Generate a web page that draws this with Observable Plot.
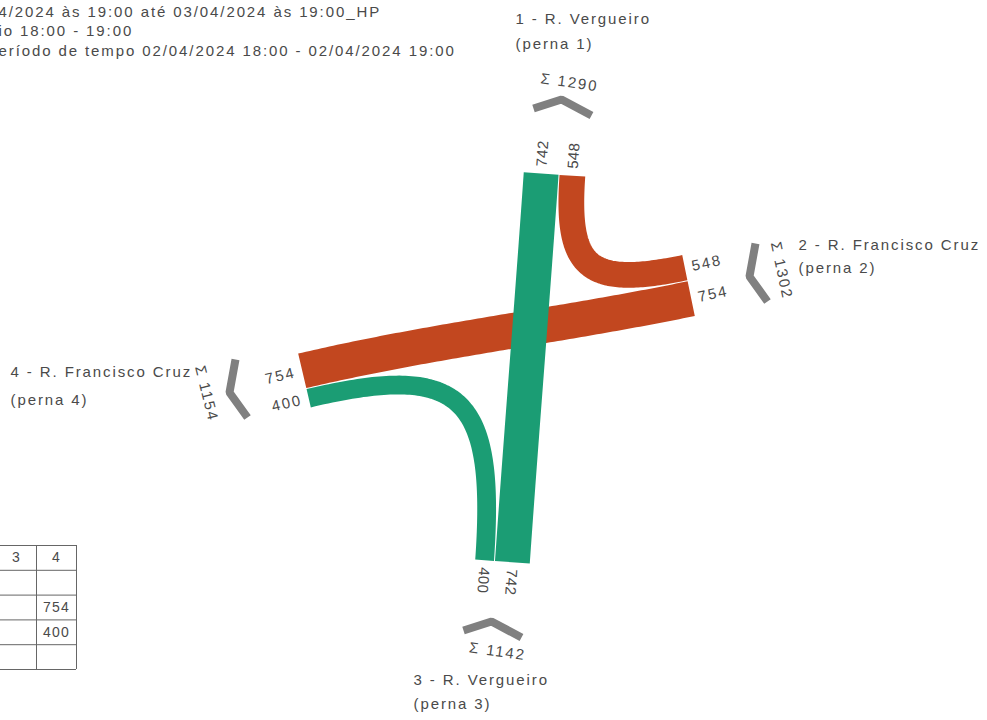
<!DOCTYPE html>
<html><head><meta charset="utf-8">
<script src="https://cdn.jsdelivr.net/npm/d3@7"></script>
<script src="https://cdn.jsdelivr.net/npm/@observablehq/plot@0.6"></script>
<style>
html,body{margin:0;padding:0;background:#fff;overflow:hidden}
#chart svg{display:block}
#chart svg text{letter-spacing:1.9px}
#chart svg text[aria-label="narrow"]{letter-spacing:0.4px}
#chart svg text[aria-label="table"]{letter-spacing:1.2px}
</style></head><body><div id="chart"></div>
<script>
// ---------- DATA ----------
const legIds = [1, 2, 3, 4];
const legNames = ["R. Vergueiro", "R. Francisco Cruz", "R. Vergueiro", "R. Francisco Cruz"];
const titleLines = [
  "4/2024 às 19:00 até 03/04/2024 às 19:00_HP",
  "io 18:00 - 19:00",
  "eríodo de tempo 02/04/2024 18:00 - 02/04/2024 19:00"
];
// origin (row) x destination (column) matrix, legs 1..4
const odMatrix = [
  [null, null, null, null],
  [548,  null, null, 754],
  [742,  null, null, 400],
  [null, null, null, null]
];

// ---------- STYLE / LAYOUT ----------
const originColors = {2: "#c2471f", 3: "#1b9d74"};
const layout = {
  pxPerVeh: 0.047, gap: 1, turnTension: 0.8, labelOffset: 7,
  legs: {
    1: {anchor: [554, 174], angle: 94,    order: [3, 2], chevron: [561, 99],  shape: "v", sigma: [569, 82],  sigmaRot: 8,  name: [515, 19],  nameGap: 24.5},
    2: {anchor: [688, 285], angle: 168.3, order: [1, 4], chevron: [749, 276], shape: "h", sigma: [781, 270], sigmaRot: 78, name: [798, 245], nameGap: 23},
    3: {anchor: [502, 561], angle: -86,   order: [1, 4], chevron: [491, 621], shape: "v", sigma: [497, 651], sigmaRot: 8,  name: [413, 680], nameGap: 24},
    4: {anchor: [304, 380], angle: -13.3, order: [3, 2], chevron: [229, 392], shape: "h", sigma: [206, 393], sigmaRot: 76, name: [10, 372],  nameGap: 28}
  },
  chevronArms: {v: [[-28, 9], [30, 16]], h: [[6, -33], [18, 25]]},
  table: {x0: -124, colW: 40, y0: 545, rowH: 24.8},
  title: {x: -2, y0: 11.5, gap: 19.5}
};

// ---------- COMPUTE ----------
const rad = a => a * Math.PI / 180;
const dirOf = L => [Math.cos(rad(layout.legs[L].angle)), Math.sin(rad(layout.legs[L].angle))];
const qOf = L => { const [dx, dy] = dirOf(L); return [dy, -dx]; };
const widthOf = v => v * layout.pxPerVeh;

const flows = [];
odMatrix.forEach((row, i) => row.forEach((v, j) => {
  if (v != null) flows.push({from: legIds[i], to: legIds[j], value: v});
}));

function bandEnd(L, other) {
  const lg = layout.legs[L];
  const items = lg.order.map(o => flows.find(f => (f.from === L && f.to === o) || (f.to === L && f.from === o)));
  const total = d3.sum(items, f => widthOf(f.value)) + layout.gap * (items.length - 1);
  let pos = -total / 2;
  for (const f of items) {
    const w = widthOf(f.value);
    const o2 = f.from === L ? f.to : f.from;
    if (o2 === other) {
      const off = pos + w / 2, q = qOf(L);
      return {x: lg.anchor[0] + q[0] * off, y: lg.anchor[1] + q[1] * off, value: f.value};
    }
    pos += w + layout.gap;
  }
}

const paths = flows.map(f => {
  const a = bandEnd(f.from, f.to), b = bandEnd(f.to, f.from);
  const da = dirOf(f.from), db = dirOf(f.to);
  const P0 = [a.x, a.y], P3 = [b.x, b.y];
  const rx = P3[0] - P0[0], ry = P3[1] - P0[1];
  let k0, k3;
  if (da[0] * db[0] + da[1] * db[1] < -0.9) {
    k0 = k3 = Math.hypot(rx, ry) / 3;
  } else {
    const det = -da[0] * db[1] + db[0] * da[1];
    const s = (-rx * db[1] + db[0] * ry) / det;
    const t = (da[0] * ry - da[1] * rx) / det;
    k0 = layout.turnTension * s; k3 = layout.turnTension * t;
  }
  const P1 = [P0[0] + da[0] * k0, P0[1] + da[1] * k0];
  const P2 = [P3[0] + db[0] * k3, P3[1] + db[1] * k3];
  const pts = d3.range(0, 101).map(i => {
    const t = i / 100, u = 1 - t;
    return {
      x: u*u*u*P0[0] + 3*u*u*t*P1[0] + 3*u*t*t*P2[0] + t*t*t*P3[0],
      y: u*u*u*P0[1] + 3*u*u*t*P1[1] + 3*u*t*t*P2[1] + t*t*t*P3[1]
    };
  });
  return {...f, points: pts, width: widthOf(f.value)};
}).sort((p, q) => d3.ascending(p.from, q.from));

// band-end value labels
const valueLabels = [];
for (const L of legIds) {
  const lg = layout.legs[L];
  for (const other of lg.order) {
    const e = bandEnd(L, other);
    const [dx, dy] = dirOf(L);
    let rot = lg.angle + 180; if (rot > 180) rot -= 360;
    let anchor = "start";
    if (Math.abs(rot) > 100) { rot = rot > 0 ? rot - 180 : rot + 180; anchor = "end"; }
    valueLabels.push({x: e.x - dx * layout.labelOffset, y: e.y - dy * layout.labelOffset, text: String(e.value), rot, anchor, kind: Math.abs(rot) < 45 ? "wide" : "narrow"});
  }
}

// leg totals and chevrons
const legTotals = legIds.map(L => ({L, total: d3.sum(flows.filter(f => f.from === L || f.to === L), f => f.value)}));
const sigmaLabels = legTotals.map(({L, total}) => ({x: layout.legs[L].sigma[0], y: layout.legs[L].sigma[1], rot: layout.legs[L].sigmaRot, text: "Σ " + total}));
const chevronPts = legIds.flatMap(L => {
  const lg = layout.legs[L], [a1, a2] = layout.chevronArms[lg.shape];
  const [cx, cy] = lg.chevron;
  return [{leg: L, x: cx + a1[0], y: cy + a1[1]}, {leg: L, x: cx, y: cy}, {leg: L, x: cx + a2[0], y: cy + a2[1]}];
});
const nameLabels = legIds.flatMap((L, i) => {
  const lg = layout.legs[L];
  return [
    {x: lg.name[0], y: lg.name[1], text: `${L} - ${legNames[i]}`},
    {x: lg.name[0], y: lg.name[1] + lg.nameGap, text: `(perna ${L})`}
  ];
});
const titleText = titleLines.map((t, i) => ({x: layout.title.x, y: layout.title.y0 + i * layout.title.gap, text: t}));

// table (OD matrix) — the page shows only its right-hand columns
const T = layout.table, nCols = legIds.length + 1, nRows = legIds.length + 1;
const hLines = d3.range(nRows + 1).map(i => ({y: T.y0 + i * T.rowH, x1: T.x0, x2: T.x0 + nCols * T.colW}));
const vLines = d3.range(nCols + 1).map(i => ({x: T.x0 + i * T.colW, y1: T.y0, y2: T.y0 + nRows * T.rowH}));
const tableCells = [];
legIds.forEach((d, j) => tableCells.push({x: T.x0 + (j + 1.5) * T.colW, y: T.y0 + 0.5 * T.rowH, text: String(d)}));
legIds.forEach((o, i) => {
  tableCells.push({x: T.x0 + 0.5 * T.colW, y: T.y0 + (i + 1.5) * T.rowH, text: String(o)});
  odMatrix[i].forEach((v, j) => { if (v != null) tableCells.push({x: T.x0 + (j + 1.5) * T.colW, y: T.y0 + (i + 1.5) * T.rowH, text: String(v)}); });
});
const visibleCells = tableCells.filter(d => d.x - T.colW / 2 > -T.colW / 2);

// ---------- PLOT ----------
const textFill = "#4a4a4a";
const marks = [
  ...paths.map(p => Plot.line(p.points, {x: "x", y: "y", stroke: originColors[p.from], strokeWidth: p.width, strokeLinecap: "butt", strokeLinejoin: "round", curve: "linear"})),
  Plot.line(chevronPts, {x: "x", y: "y", z: "leg", stroke: "#808080", strokeWidth: 8, strokeLinejoin: "miter", strokeLinecap: "butt"}),
  Plot.ruleY(hLines, {y: "y", x1: "x1", x2: "x2", stroke: "#666", strokeWidth: 1}),
  Plot.ruleX(vLines, {x: "x", y1: "y1", y2: "y2", stroke: "#666", strokeWidth: 1}),
  Plot.text(visibleCells, {x: "x", y: "y", text: "text", fill: textFill, fontSize: 14, ariaLabel: () => "table"}),
  Plot.text(titleText, {x: "x", y: "y", text: "text", textAnchor: "start", fill: textFill, fontSize: 15}),
  Plot.text(nameLabels, {x: "x", y: "y", text: "text", textAnchor: "start", fill: textFill, fontSize: 15}),
  Plot.text(valueLabels.filter(d => d.anchor === "start"), {x: "x", y: "y", text: "text", rotate: "rot", textAnchor: "start", fill: textFill, fontSize: 15, ariaLabel: "kind"}),
  Plot.text(valueLabels.filter(d => d.anchor === "end"), {x: "x", y: "y", text: "text", rotate: "rot", textAnchor: "end", fill: textFill, fontSize: 15, ariaLabel: "kind"}),
  Plot.text(sigmaLabels, {x: "x", y: "y", text: "text", rotate: "rot", fill: textFill, fontSize: 15})
];

const chart = Plot.plot({
  width: 987, height: 720, margin: 0,
  x: {domain: [0, 987], range: [0, 987], axis: null},
  y: {domain: [0, 720], range: [0, 720], axis: null},
  style: {fontFamily: "'Liberation Sans', Arial, sans-serif", background: "#fff", overflow: "visible"},
  marks
});
document.getElementById("chart").appendChild(chart);
</script></body></html>
